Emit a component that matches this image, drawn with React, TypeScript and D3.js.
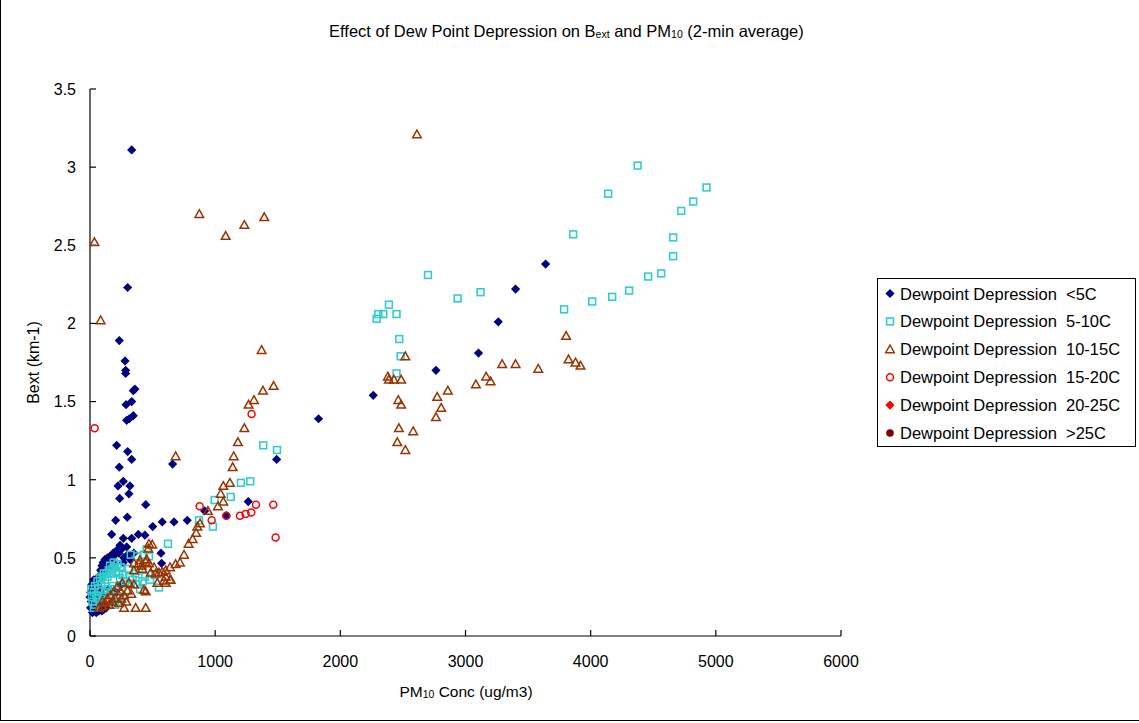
import React from "react";
import * as d3 from "d3";

type Pt = [number, number];

const seriesNames = [
  "Dewpoint Depression \u00A0<5C",
  "Dewpoint Depression \u00A05-10C",
  "Dewpoint Depression \u00A010-15C",
  "Dewpoint Depression \u00A015-20C",
  "Dewpoint Depression \u00A020-25C",
  "Dewpoint Depression \u00A0>25C",
];

const xTicks = [0, 1000, 2000, 3000, 4000, 5000, 6000];
const yTicks = [0, 0.5, 1, 1.5, 2, 2.5, 3, 3.5];

const dpLt5: Pt[] = [
  [333, 3.11], [301, 2.23], [234, 1.89], [280, 1.76], [285, 1.70], [285, 1.68], [359, 1.58], [346, 1.57],
  [288, 1.48], [333, 1.50], [293, 1.38], [314, 1.39], [346, 1.41], [2263, 1.54], [1826, 1.39], [213, 1.22],
  [301, 1.18], [333, 1.13], [1491, 1.13], [660, 1.10], [234, 1.08], [266, 0.99], [224, 0.96], [319, 0.96],
  [237, 0.88], [311, 0.91], [445, 0.84], [205, 0.74], [298, 0.76], [501, 0.70], [577, 0.73], [671, 0.73],
  [777, 0.74], [916, 0.80], [1089, 0.77], [1264, 0.86], [173, 0.65], [266, 0.625], [333, 0.625], [386, 0.65],
  [439, 0.645], [240, 0.58], [293, 0.57], [258, 0.56], [567, 0.53], [572, 0.465],
  [3400, 2.22], [3262, 2.01], [3104, 1.81], [2764, 1.70], [3640, 2.38],
  [0, 0.25], [5, 0.28], [10, 0.22], [15, 0.18], [20, 0.15], [25, 0.32], [30, 0.36], [35, 0.2], [40, 0.16],
  [50, 0.15], [55, 0.18], [60, 0.21], [70, 0.16], [80, 0.17], [95, 0.16], [110, 0.17], [120, 0.19], [130, 0.18],
  [45, 0.3], [60, 0.33], [70, 0.38], [85, 0.42], [95, 0.45], [105, 0.47], [110, 0.43], [120, 0.49], [130, 0.46],
  [140, 0.5], [150, 0.48], [160, 0.51], [175, 0.5], [185, 0.53], [200, 0.52], [215, 0.55], [230, 0.53],
  [100, 0.38], [125, 0.41], [145, 0.44], [165, 0.45], [190, 0.47], [80, 0.3], [60, 0.27], [20, 0.24], [30, 0.27],
  [150, 0.3], [180, 0.22], [210, 0.28], [250, 0.33], [270, 0.5], [300, 0.52], [320, 0.49], [350, 0.53], [265, 0.47],
  [100, 0.27], [5, 0.18], [15, 0.33], [40, 0.24], [90, 0.2],
];

const dp5to10: Pt[] = [
  [4375, 3.01], [4140, 2.83], [4926, 2.87], [4819, 2.78], [4723, 2.72], [4659, 2.55], [4659, 2.43], [4563, 2.32],
  [4459, 2.30], [4307, 2.21], [4172, 2.17], [4012, 2.14], [3788, 2.09], [3860, 2.57], [2700, 2.31], [2937, 2.16],
  [3120, 2.20], [2388, 2.12], [2303, 2.06], [2343, 2.06], [2449, 2.06], [2290, 2.03], [2471, 1.90], [2482, 1.79],
  [2449, 1.68], [1384, 1.22], [1494, 1.19],
  [1206, 0.98], [1280, 0.99], [1124, 0.89], [996, 0.87], [871, 0.74], [982, 0.70], [623, 0.59], [453, 0.555],
  [325, 0.52], [378, 0.51], [431, 0.52], [471, 0.51], [245, 0.44], [311, 0.43], [391, 0.42], [551, 0.31],
  [20, 0.22], [30, 0.28], [40, 0.32], [50, 0.26], [60, 0.35], [70, 0.3], [80, 0.37], [90, 0.33], [100, 0.38],
  [110, 0.4], [120, 0.36], [130, 0.4], [140, 0.38], [150, 0.42], [160, 0.45], [170, 0.4], [180, 0.43], [190, 0.47],
  [200, 0.44], [210, 0.41], [220, 0.46], [230, 0.4], [240, 0.37], [260, 0.39], [280, 0.35], [300, 0.33], [320, 0.38],
  [340, 0.36], [360, 0.4], [380, 0.33], [400, 0.3], [420, 0.35], [440, 0.38], [480, 0.36], [520, 0.39],
  [40, 0.2], [60, 0.24], [80, 0.22], [100, 0.25], [120, 0.28], [140, 0.3], [160, 0.27], [180, 0.32], [200, 0.3],
  [220, 0.22], [240, 0.25], [30, 0.18], [10, 0.3], [15, 0.25], [200, 0.2],
];

const dp10to15: Pt[] = [
  [2612, 3.21], [873, 2.70], [1084, 2.56], [1233, 2.63], [1392, 2.68], [35, 2.52], [85, 2.02], [1371, 1.83],
  [1382, 1.57], [1467, 1.60], [1310, 1.51], [1267, 1.48], [1233, 1.33], [1182, 1.24], [684, 1.15], [1148, 1.15],
  [1140, 1.08], [1118, 0.98], [1065, 0.96], [1044, 0.91], [1065, 0.86], [1022, 0.83], [942, 0.80], [879, 0.72],
  [857, 0.70], [848, 0.66], [820, 0.62], [788, 0.59], [751, 0.52], [719, 0.47], [684, 0.46], [639, 0.44],
  [605, 0.42], [471, 0.59], [497, 0.585], [466, 0.56],
  [2519, 1.79], [2380, 1.66], [2388, 1.64], [2428, 1.64], [2486, 1.64], [2463, 1.51], [2486, 1.48], [2468, 1.33],
  [2582, 1.31], [2455, 1.24], [2519, 1.19], [2774, 1.53], [2859, 1.57], [2806, 1.46], [2764, 1.40], [3083, 1.61],
  [3165, 1.66], [3200, 1.63], [3293, 1.74], [3400, 1.74], [3581, 1.71], [3804, 1.92], [3823, 1.77], [3879, 1.75],
  [3919, 1.73],
  [351, 0.465], [391, 0.465], [445, 0.475], [471, 0.465], [511, 0.44], [551, 0.405], [605, 0.38], [645, 0.36],
  [351, 0.42], [418, 0.43], [485, 0.405], [525, 0.40], [577, 0.41], [591, 0.355], [639, 0.36], [538, 0.34],
  [605, 0.34], [258, 0.34], [311, 0.34], [351, 0.33], [431, 0.295], [445, 0.285], [218, 0.315], [192, 0.285],
  [165, 0.26], [138, 0.24], [98, 0.22], [72, 0.18], [152, 0.20], [232, 0.21], [272, 0.18], [365, 0.18],
  [445, 0.18], [272, 0.26], [245, 0.285], [399, 0.485], [453, 0.49], [413, 0.45], [300, 0.29], [330, 0.27],
  [200, 0.24], [180, 0.22], [120, 0.21], [100, 0.19], [250, 0.24], [290, 0.22],
];

const dp15to20: Pt[] = [
  [37, 1.33], [1291, 1.42], [876, 0.83], [972, 0.74], [1089, 0.77], [1198, 0.77], [1243, 0.78], [1288, 0.79],
  [1326, 0.84], [1464, 0.84], [1483, 0.63],
];

const dp20to25: Pt[] = [];
const dpGt25: Pt[] = [];

const FONT = "'Liberation Sans', Arial, sans-serif";

const W = 1139;
const H = 723;
const left = 90;
const right = 841;
const top = 89;
const bottom = 636;

const x = d3.scaleLinear().domain([0, 6000]).range([left, right]);
const y = d3.scaleLinear().domain([0, 3.5]).range([bottom, top]);

const colors = ["#000080", "#33CCCC", "#993300", "#FF0000", "#FF0000", "#800000"];

function Marker({ kind, cx, cy }: { kind: number; cx: number; cy: number }) {
  const c = colors[kind];
  if (kind === 0 || kind === 4) {
    const r = 4.6;
    return <path d={`M${cx},${cy - r}L${cx + r},${cy}L${cx},${cy + r}L${cx - r},${cy}Z`} fill={c} />;
  }
  if (kind === 1) {
    return <rect x={cx - 3.4} y={cy - 3.4} width={6.8} height={6.8} fill="none" stroke={c} strokeWidth={1.6} />;
  }
  if (kind === 2) {
    return (
      <path
        d={`M${cx},${cy - 4.3}L${cx + 4.3},${cy + 3.4}L${cx - 4.3},${cy + 3.4}Z`}
        fill="none"
        stroke={c}
        strokeWidth={1.5}
      />
    );
  }
  if (kind === 3) {
    return <circle cx={cx} cy={cy} r={3.5} fill="none" stroke={c} strokeWidth={1.5} />;
  }
  return <circle cx={cx} cy={cy} r={3.8} fill={c} />;
}

export default function App() {
  const allSeries = [dpLt5, dp5to10, dp10to15, dp15to20, dp20to25, dpGt25];
  const legendX = 877.5;
  const legendY = 278.5;
  const rowH = 27.9;
  return (
    <svg
      width={W}
      height={H}
      style={{ position: "absolute", left: 0, top: 0, background: "#fff" }}
      fontFamily={FONT}
    >
      <rect x={0} y={0} width={W} height={H} fill="#fff" />
      <line x1={0.5} y1={0} x2={0.5} y2={720.5} stroke="#000" strokeWidth={1} />
      <line x1={0} y1={720.5} x2={W} y2={720.5} stroke="#000" strokeWidth={1} />

      <text x={329} y={37} fontSize={16.5} fill="#000">
        Effect of Dew Point Depression on B
        <tspan fontSize={10.5} dy={1}>ext</tspan>
        <tspan dy={-1}> and PM</tspan>
        <tspan fontSize={10.5} dy={1}>10</tspan>
        <tspan dy={-1}> (2-min average)</tspan>
      </text>

      {/* axes */}
      <line x1={left} y1={top} x2={left} y2={bottom} stroke="#000" strokeWidth={1.2} />
      <line x1={left} y1={bottom} x2={right} y2={bottom} stroke="#000" strokeWidth={1.2} />
      {yTicks.map((t) => (
        <g key={"y" + t}>
          <line x1={left} x2={left + 6} y1={y(t)} y2={y(t)} stroke="#000" strokeWidth={1.2} />
          <text x={76} y={y(t) + 5.8} textAnchor="end" fontSize={16} fill="#000">
            {String(t)}
          </text>
        </g>
      ))}
      {xTicks.map((t) => (
        <g key={"x" + t}>
          <line x1={x(t)} x2={x(t)} y1={bottom} y2={bottom - 6} stroke="#000" strokeWidth={1.2} />
          <text x={x(t)} y={667} textAnchor="middle" fontSize={16} fill="#000">
            {String(t)}
          </text>
        </g>
      ))}

      <text x={466} y={697} textAnchor="middle" fontSize={15.5} fill="#000">
        PM<tspan fontSize={10.5} dy={1}>10</tspan>
        <tspan dy={-1}> Conc (ug/m3)</tspan>
      </text>
      <text
        transform={`translate(39,${(top + bottom) / 2}) rotate(-90)`}
        textAnchor="middle"
        fontSize={16}
        fill="#000"
      >
        Bext (km-1)
      </text>

      {/* points */}
      {allSeries.map((s, k) => (
        <g key={"s" + k}>
          {s.map((p, i) => (
            <Marker key={i} kind={k} cx={x(p[0])} cy={y(p[1])} />
          ))}
        </g>
      ))}

      {/* legend */}
      <rect x={legendX} y={legendY} width={258} height={168} fill="#fff" stroke="#000" strokeWidth={1} />
      {seriesNames.map((n, i) => (
        <g key={"l" + i}>
          <Marker kind={i} cx={890} cy={legendY + 15 + i * rowH} />
          <text x={900} y={legendY + 15 + i * rowH + 6} fontSize={16.5} fill="#000">
            {n}
          </text>
        </g>
      ))}
    </svg>
  );
}
